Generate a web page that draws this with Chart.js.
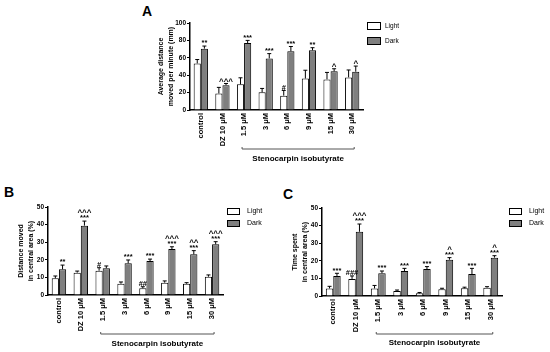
<!DOCTYPE html>
<html>
<head>
<meta charset="utf-8">
<script src="https://cdn.jsdelivr.net/npm/chart.js"></script>
<style>
body { margin: 0; background: #fff; width: 550px; height: 352px; position: relative; overflow: hidden; font-family: "Liberation Sans", Arial, sans-serif; }
.box { position: absolute; }
.tag { position: absolute; font-weight: bold; font-size: 14px; color: #000; }
</style>
</head>
<body>
<div class="tag" style="left:142px;top:3px">A</div>
<div class="tag" style="left:4px;top:184px">B</div>
<div class="tag" style="left:283px;top:186px">C</div>
<div class="box" style="left:130px;top:0px"><canvas id="chartA" width="290" height="180"></canvas></div>
<div class="box" style="left:0px;top:180px"><canvas id="chartB" width="280" height="172"></canvas></div>
<div class="box" style="left:270px;top:180px"><canvas id="chartC" width="280" height="172"></canvas></div>
<script>
// categories
var categories = ["control", "DZ 10 \u03bcM", "1.5 \u03bcM", "3 \u03bcM", "6 \u03bcM", "9 \u03bcM", "15 \u03bcM", "30 \u03bcM"];
var groupLabel = "Stenocarpin isobutyrate";

// panel A - average distance moved per minute (mm)
var lightA = [53.5, 19, 29.5, 20.3, 16.5, 36.2, 35.2, 37.5];
var lightErrA = [4.5, 7, 7.5, 4.5, 6, 9.5, 8, 8.5];
var darkA = [70.5, 28.5, 77, 59.3, 67.5, 68.6, 44.4, 44];
var darkErrA = [3, 2, 3, 5.5, 5.5, 3, 3, 6.5];
var lightMarksA = ["", "", "", "", "#", "", "", ""];
var darkMarksA = ["**", "", "***", "***", "***", "**", "", ""];
var darkCaretsA = ["", "^^^", "", "", "", "", "^", "^"];
var ticksA = [0, 20, 40, 60, 80, 100];

// panel B - distance moved in central area (%)
var lightB = [9.5, 12.7, 13.8, 6.4, 3.8, 7, 6.4, 10.4];
var lightErrB = [1.3, 0.9, 1.7, 1, 0.9, 1, 0.6, 1];
var darkB = [14.6, 39.4, 15.2, 18, 19.3, 26.1, 23.1, 28.8];
var darkErrB = [2.4, 2.6, 1.3, 1.9, 1.1, 1.3, 2.1, 1.5];
var lightMarksB = ["", "", "#", "", "##", "", "", ""];
var darkMarksB = ["**", "***", "", "***", "***", "***", "***", "***"];
var darkCaretsB = ["", "^^^", "", "", "", "^^^", "^^", "^^^"];

// panel C - time spent in central area (%)
var lightC = [4.3, 9.7, 4.3, 2.8, 1.5, 3.8, 4.4, 4.7];
var lightErrC = [1.2, 1.7, 1.7, 0.6, 0.5, 0.6, 0.6, 0.6];
var darkC = [11.4, 36.5, 12.9, 14.2, 15.3, 20.6, 12.5, 21.8];
var darkErrC = [1.5, 4.4, 1.3, 1.5, 1.4, 1.2, 3.2, 1.1];
var lightMarksC = ["", "###", "", "", "", "", "", ""];
var darkMarksC = ["***", "***", "***", "***", "***", "***", "***", "***"];
var darkCaretsC = ["", "^^^", "", "", "", "^", "", "^"];
var ticksBC = [0, 10, 20, 30, 40, 50];

var FONT = "'Liberation Sans', Arial, sans-serif";

// error bars, significance marks, bracket and legend
var extras = {
    id: "extras",
    afterDatasetsDraw: function (chart, args, opts) {
        var ctx = chart.ctx, y = chart.scales.y, x = chart.scales.x;
        ctx.save();
        chart.data.datasets.forEach(function (ds, di) {
            var meta = chart.getDatasetMeta(di);
            meta.data.forEach(function (bar, i) {
                var top = y.getPixelForValue(ds.data[i] + ds.errors[i]);
                ctx.strokeStyle = "#000";
                ctx.lineWidth = 1;
                ctx.beginPath();
                ctx.moveTo(bar.x, bar.y);
                ctx.lineTo(bar.x, top);
                ctx.moveTo(bar.x - 2, top);
                ctx.lineTo(bar.x + 2, top);
                ctx.stroke();
                ctx.fillStyle = "#000";
                ctx.textAlign = "center";
                ctx.textBaseline = "bottom";
                var pos = top - 1;
                if (ds.marks[i]) {
                    ctx.font = "bold 7.5px " + FONT;
                    ctx.fillText(ds.marks[i], bar.x, pos + 2);
                    pos -= 6;
                }
                if (ds.carets && ds.carets[i]) {
                    ctx.font = "bold 8px " + FONT;
                    ctx.fillText(ds.carets[i], bar.x, pos + 3);
                }
            });
        });
        // bracket under the compound doses
        var x1 = x.getPixelForValue(2) - 2, x2 = x.getPixelForValue(7) + 2;
        ctx.strokeStyle = "#555";
        ctx.lineWidth = 1;
        ctx.beginPath();
        ctx.moveTo(x1, opts.bracketY - 2);
        ctx.lineTo(x1, opts.bracketY);
        ctx.lineTo(x2, opts.bracketY);
        ctx.lineTo(x2, opts.bracketY - 2);
        ctx.stroke();
        ctx.fillStyle = "#000";
        ctx.font = "bold 8px " + FONT;
        ctx.textAlign = "center";
        ctx.textBaseline = "middle";
        ctx.fillText(groupLabel, (x1 + x2) / 2, opts.textY);
        // legend
        var lg = opts.legend;
        chart.data.datasets.forEach(function (ds, di) {
            var by = lg.y + di * lg.gap;
            ctx.fillStyle = ds.backgroundColor;
            ctx.fillRect(lg.x, by, lg.w, lg.h);
            ctx.strokeStyle = "#000";
            ctx.strokeRect(lg.x + 0.5, by + 0.5, lg.w - 1, lg.h - 1);
            ctx.fillStyle = "#000";
            ctx.font = lg.size + "px " + FONT;
            ctx.textAlign = "left";
            ctx.textBaseline = "middle";
            ctx.fillText(ds.label, lg.textX, by + lg.h / 2);
        });
        ctx.restore();
    }
};

function makeChart(id, light, lightErr, dark, darkErr, lightMarks, darkMarks, darkCarets, yTicks, yTitle, lay) {
    var ctx = document.getElementById(id).getContext("2d");
    return new Chart(ctx, {
        type: "bar",
        data: {
            labels: categories,
            datasets: [{
                    label: "Light",
                    data: light,
                    errors: lightErr,
                    marks: lightMarks,
                    backgroundColor: "#ffffff",
                    borderColor: "#000",
                    borderWidth: 1
                },
                {
                    label: "Dark",
                    data: dark,
                    errors: darkErr,
                    marks: darkMarks,
                    carets: darkCarets,
                    backgroundColor: "#7f7f7f",
                    borderColor: "#000",
                    borderWidth: 1
                }
            ]
        },
        options: {
            responsive: false,
            animation: false,
            categoryPercentage: 0.66,
            barPercentage: 1,
            layout: { padding: lay.padding },
            plugins: {
                legend: { display: false },
                tooltip: { enabled: false },
                extras: { bracketY: lay.bracketY, textY: lay.textY, legend: lay.legend }
            },
            scales: {
                x: {
                    ticks: { color: "#000", font: { family: FONT, size: 7.5, weight: "bold" }, minRotation: 90, maxRotation: 90, autoSkip: false, padding: 3 },
                    grid: { display: false, drawTicks: false },
                    border: { color: "#000", width: 1.5 },
                    afterFit: function (s) { s.height = lay.xHeight; }
                },
                y: {
                    min: yTicks[0],
                    max: yTicks[yTicks.length - 1],
                    afterBuildTicks: function (s) { s.ticks = yTicks.map(function (v) { return { value: v }; }); },
                    ticks: { color: "#000", font: { family: FONT, size: 6.5, weight: "bold" }, padding: 1 },
                    grid: { drawOnChartArea: false, drawTicks: true, tickLength: 3, color: "#000", lineWidth: 1 },
                    border: { color: "#000", width: 1.5 },
                    title: { display: true, text: yTitle, color: "#000", font: { family: FONT, size: 7, weight: "bold", lineHeight: 1.4 }, padding: 0 },
                    afterFit: function (s) { s.width = lay.yWidth; }
                }
            }
        },
        plugins: [extras]
    });
}

makeChart("chartA", lightA, lightErrA, darkA, darkErrA, lightMarksA, darkMarksA, darkCaretsA, ticksA,
    ["Average distance", "moved per minute (mm)"],
    { padding: { left: 26, right: 57, top: 23, bottom: 0 }, yWidth: 34, xHeight: 70, bracketY: 149, textY: 159,
      legend: { x: 237, y: 22, w: 14, h: 8, gap: 15, textX: 255, size: 6.5 } });

makeChart("chartB", lightB, lightErrB, darkB, darkErrB, lightMarksB, darkMarksB, darkCaretsB, ticksBC,
    ["Distance moved", "in central area (%)"],
    { padding: { left: 16, right: 57, top: 27, bottom: 0 }, yWidth: 32, xHeight: 57, bracketY: 154, textY: 164,
      legend: { x: 227, y: 28, w: 13, h: 7, gap: 12, textX: 247, size: 7 } });

makeChart("chartC", lightC, lightErrC, darkC, darkErrC, lightMarksC, darkMarksC, darkCaretsC, ticksBC,
    ["Time spent", "in central area (%)"],
    { padding: { left: 20, right: 48, top: 28, bottom: 0 }, yWidth: 32, xHeight: 56, bracketY: 154, textY: 163,
      legend: { x: 239, y: 28, w: 13, h: 7, gap: 12, textX: 259, size: 7 } });
</script>
</body>
</html>
